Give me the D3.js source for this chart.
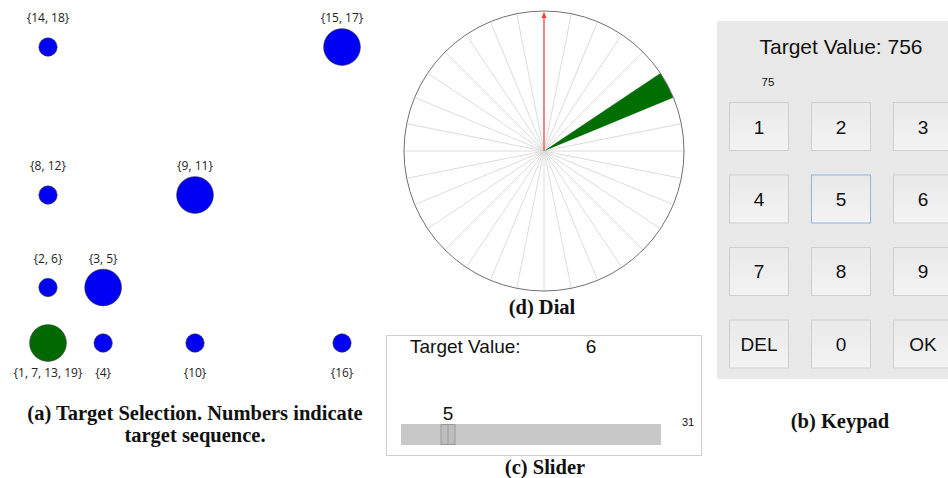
<!DOCTYPE html>
<html lang="en">
  <head>
    <meta charset="UTF-8" />
    <script src="https://d3js.org/d3.v7.min.js"></script>
    <style>
      body { margin: 0; background: #fff; }
    </style>
  </head>
  <body>
    <div id="fig"></div>
    <script>
      // (a) target selection: grid position in units, diameter in units, visit order
      const targetX = [0, 0, 3, 3, 0, 8, 8, 0, 16, 16]
      const targetY = [0, 3, 3, 0, 8, 8, 0, 16, 16, 0]
      const targetSize = [2, 1, 2, 1, 1, 2, 1, 1, 2, 1]
      const targetLabels = ['{1, 7, 13, 19}', '{2, 6}', '{3, 5}', '{4}', '{8, 12}', '{9, 11}', '{10}', '{14, 18}', '{15, 17}', '{16}']
      const activeTarget = '{1, 7, 13, 19}'

      // (d) dial
      const dialSectors = 32
      const dialTargetSector = 5
      const dialNeedle = 0

      // (c) slider
      const sliderMin = 0
      const sliderMax = 31
      const sliderValue = 5
      const sliderTarget = 6

      // (b) keypad
      const keys = ['1', '2', '3', '4', '5', '6', '7', '8', '9', 'DEL', '0', 'OK']
      const keypadTarget = 756
      const keypadEntered = '75'
      const focusedKey = '5'

      const W = 948, H = 478
      const sans = '"Liberation Sans", Arial, sans-serif'
      const serif = '"Liberation Serif", "Times New Roman", serif'

      const svg = d3.select('#fig').append('svg')
        .attr('width', W).attr('height', H)

      const caption = (x, y, lines) => {
        const t = svg.append('text')
          .attr('x', x).attr('y', y)
          .attr('text-anchor', 'middle')
          .style('font-family', serif)
          .style('font-weight', 'bold')
          .style('font-size', '20.5px')
          .attr('fill', '#111')
        lines.forEach((l, i) => {
          t.append('tspan').attr('x', x).attr('dy', i ? 22 : 0).text(l)
        })
      }

      // ---------- (a) Target Selection ----------
      const gx = d3.scaleLinear().domain([0, 16]).range([48, 342])
      const gy = d3.scaleLinear().domain([0, 16]).range([343, 47])
      const unit = gx(1) - gx(0)

      const targets = targetX.map((x, i) => ({
        x, y: targetY[i], size: targetSize[i], label: targetLabels[i]
      }))

      const ga = svg.append('g')
      ga.selectAll('circle')
        .data(targets)
        .join('circle')
        .attr('cx', d => gx(d.x))
        .attr('cy', d => gy(d.y))
        .attr('r', d => d.size * unit / 2)
        .attr('fill', d => d.label === activeTarget ? '#006a00' : '#0000f5')
        .attr('stroke', '#333')
        .attr('stroke-width', 0.6)

      ga.selectAll('text')
        .data(targets)
        .join('text')
        .attr('x', d => gx(d.x))
        .attr('y', d => gy(d.y) + (d.y === 0 ? 34 : -25))
        .attr('text-anchor', 'middle')
        .style('font-family', '"Open Sans", "Noto Sans", sans-serif')
        .style('font-size', '12px')
        .attr('fill', '#222')
        .text(d => d.label)

      caption(195, 420, ['(a) Target Selection. Numbers indicate', 'target sequence.'])

      // ---------- (d) Dial ----------
      const cx = 544, cy = 151, R = 140
      const ang = d3.scaleLinear().domain([0, dialSectors]).range([0, 2 * Math.PI])
      const gd = svg.append('g').attr('transform', `translate(${cx}, ${cy})`)

      gd.selectAll('line.spoke')
        .data(d3.range(dialSectors))
        .join('line')
        .attr('class', 'spoke')
        .attr('x1', 0).attr('y1', 0)
        .attr('x2', d => R * Math.sin(ang(d)))
        .attr('y2', d => -R * Math.cos(ang(d)))
        .attr('stroke', '#dcdcdc')
        .attr('stroke-width', 1)

      gd.append('path')
        .attr('d', d3.arc()({
          innerRadius: 0, outerRadius: R,
          startAngle: ang(dialTargetSector), endAngle: ang(dialTargetSector + 1)
        }))
        .attr('fill', '#006e00')

      gd.append('circle')
        .attr('r', R)
        .attr('fill', 'none')
        .attr('stroke', '#707070')
        .attr('stroke-width', 1)

      const na = ang(dialNeedle)
      gd.append('line')
        .attr('x1', 0).attr('y1', 0)
        .attr('x2', (R - 2) * Math.sin(na))
        .attr('y2', -(R - 2) * Math.cos(na))
        .attr('stroke', '#ff3b3b')
        .attr('stroke-width', 1.2)
      gd.append('path')
        .attr('d', 'M0,-3L-2.5,3L2.5,3Z')
        .attr('transform', `rotate(${na * 180 / Math.PI}) translate(0, ${-R + 4})`)
        .attr('fill', '#ff3b3b')

      caption(542, 314, ['(d) Dial'])

      // ---------- (c) Slider ----------
      const gs = svg.append('g')
      gs.append('rect')
        .attr('x', 386.5).attr('y', 335.5)
        .attr('width', 315).attr('height', 120)
        .attr('fill', '#fff')
        .attr('stroke', '#cfcfcf')

      gs.append('text')
        .attr('x', 410).attr('y', 353)
        .style('font-family', sans).style('font-size', '19px')
        .attr('fill', '#111')
        .text('Target Value:')
      gs.append('text')
        .attr('x', 591).attr('y', 353)
        .attr('text-anchor', 'middle')
        .style('font-family', sans).style('font-size', '19px')
        .attr('fill', '#111')
        .text(sliderTarget)

      const trackX0 = 401, trackX1 = 661, thumbW = 15
      const sx = d3.scaleLinear()
        .domain([sliderMin, sliderMax])
        .range([trackX0 + thumbW / 2, trackX1 - thumbW / 2])

      gs.append('rect')
        .attr('x', trackX0).attr('y', 424)
        .attr('width', trackX1 - trackX0).attr('height', 21)
        .attr('fill', '#c8c8c8')

      const tx = sx(sliderValue)
      gs.append('rect')
        .attr('x', tx - thumbW / 2 + 0.5).attr('y', 424.5)
        .attr('width', thumbW - 1).attr('height', 20)
        .attr('fill', '#bdbdbd')
        .attr('stroke', '#9a9a9a')
      gs.append('line')
        .attr('x1', tx).attr('x2', tx)
        .attr('y1', 424.5).attr('y2', 444.5)
        .attr('stroke', '#9a9a9a')

      gs.append('text')
        .attr('x', tx).attr('y', 420)
        .attr('text-anchor', 'middle')
        .style('font-family', sans).style('font-size', '19px')
        .attr('fill', '#111')
        .text(sliderValue)

      gs.append('text')
        .attr('x', 688).attr('y', 426)
        .attr('text-anchor', 'middle')
        .style('font-family', sans).style('font-size', '11px')
        .attr('fill', '#111')
        .text(sliderMax)

      caption(545, 474, ['(c) Slider'])

      // ---------- (b) Keypad ----------
      const gk = svg.append('g')
      gk.append('rect')
        .attr('x', 717).attr('y', 21)
        .attr('width', W - 717).attr('height', 358)
        .attr('fill', '#e8e8e8')

      gk.append('text')
        .attr('x', 841).attr('y', 54)
        .attr('text-anchor', 'middle')
        .style('font-family', sans).style('font-size', '21px')
        .attr('fill', '#111')
        .text(`Target Value: ${keypadTarget}`)

      gk.append('text')
        .attr('x', 768).attr('y', 86)
        .attr('text-anchor', 'middle')
        .style('font-family', sans).style('font-size', '11.5px')
        .attr('fill', '#111')
        .text(keypadEntered)

      const defs = svg.append('defs')
      const grad = defs.append('linearGradient')
        .attr('id', 'btn').attr('x1', 0).attr('x2', 0).attr('y1', 0).attr('y2', 1)
      grad.append('stop').attr('offset', 0).attr('stop-color', '#e9e9e9')
      grad.append('stop').attr('offset', 1).attr('stop-color', '#f3f3f3')

      const kx = d3.scaleBand().domain([0, 1, 2]).range([729, 953]).paddingInner(0.268).paddingOuter(0)
      const ky = d3.scaleBand().domain([0, 1, 2, 3]).range([102, 368.5]).paddingInner(0.324).paddingOuter(0)

      const btn = gk.selectAll('g.key')
        .data(keys)
        .join('g')
        .attr('class', 'key')
        .attr('transform', (d, i) => `translate(${kx(i % 3)}, ${ky(Math.floor(i / 3))})`)

      btn.append('rect')
        .attr('x', 0.5).attr('y', 0.5)
        .attr('width', kx.bandwidth() - 1).attr('height', ky.bandwidth() - 1)
        .attr('fill', 'url(#btn)')
        .attr('stroke', d => d === focusedKey ? '#8fb3e6' : '#cfcfcf')
        .attr('stroke-width', 1)

      btn.append('text')
        .attr('x', kx.bandwidth() / 2)
        .attr('y', ky.bandwidth() / 2 + 7)
        .attr('text-anchor', 'middle')
        .style('font-family', sans).style('font-size', '19px')
        .attr('fill', '#111')
        .text(d => d)

      caption(840, 428, ['(b) Keypad'])
    </script>
  </body>
</html>
